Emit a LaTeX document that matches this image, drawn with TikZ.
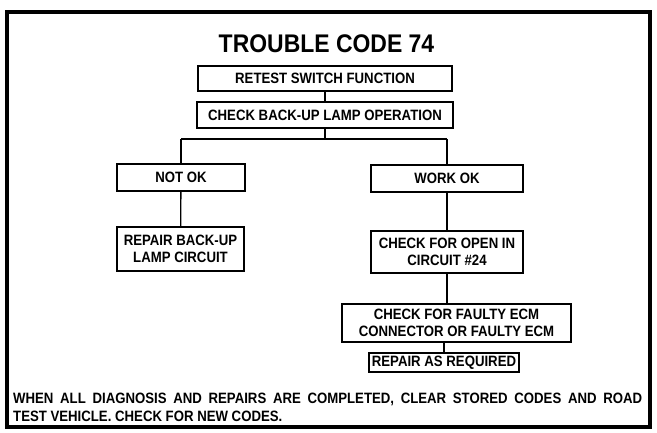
\documentclass[tikz,border=0pt]{standalone}
\usepackage{fontspec}
\setmainfont{Liberation Sans}
\newfontfamily\dfont[FakeStretch=0.88]{Liberation Sans}
\newfontfamily\tfont[FakeStretch=0.9]{Liberation Sans}
\begin{document}
\begin{tikzpicture}[x=1pt,y=-1pt,
  box/.style={draw, line width=1.4pt, inner sep=0pt, align=center,
    font=\dfont\bfseries\fontsize{15}{16.5}\selectfont},
  conn/.style={line width=1.3pt},
  foot/.style={anchor=base west, inner sep=0pt, font=\dfont\bfseries\fontsize{15}{16.5}\selectfont}]
\useasboundingbox (0,0) rectangle (657,433);
\draw[line width=3.5pt] (7,12) rectangle (650,427);
\node[inner sep=0pt] (title) at (326.5,44) {\tfont\bfseries\fontsize{25.5}{28}\selectfont TROUBLE CODE 74};
\node[box, minimum width=254pt, minimum height=25pt] (b1) at (325,78.5) {RETEST SWITCH FUNCTION};
\node[box, minimum width=256pt, minimum height=26pt] (b2) at (325,115) {CHECK BACK-UP LAMP OPERATION};
\node[box, minimum width=128pt, minimum height=27pt] (notok) at (181,177.5) {NOT OK};
\node[box, minimum width=127pt, minimum height=44pt] (repair) at (180.5,249) {REPAIR BACK-UP\\LAMP CIRCUIT};
\node[box, minimum width=152pt, minimum height=27pt] (workok) at (447,178.5) {WORK OK};
\node[box, minimum width=152pt, minimum height=42pt] (open) at (447,252) {CHECK FOR OPEN IN\\CIRCUIT \#24};
\node[box, minimum width=229pt, minimum height=38pt] (faulty) at (456.5,323) {CHECK FOR FAULTY ECM\\CONNECTOR OR FAULTY ECM};
\node[box, minimum width=150pt, minimum height=19pt] (reqd) at (444,362.5) {REPAIR AS REQUIRED};
\coordinate (split) at (325,139);
\draw[conn] (b1) -- (b2);
\draw[conn] (b2) -- (split);
\draw[conn] (notok.north |- split) -- (workok.north |- split);
\draw[conn] (notok.north |- split) -- (notok.north);
\draw[conn] (workok.north |- split) -- (workok.north);
\draw[conn] (notok) -- (repair);
\draw[conn] (workok) -- (open);
\draw[conn] (open.south) -- (open.south |- faulty.north);
\draw[conn] (reqd.north |- faulty.south) -- (reqd.north);
\node[foot] (f1) at (13,403) {\makebox[629pt][s]{WHEN ALL DIAGNOSIS AND REPAIRS ARE COMPLETED, CLEAR STORED CODES AND ROAD}};
\node[foot] (f2) at (13,421) {TEST VEHICLE. CHECK FOR NEW CODES.};
\end{tikzpicture}
\end{document}
